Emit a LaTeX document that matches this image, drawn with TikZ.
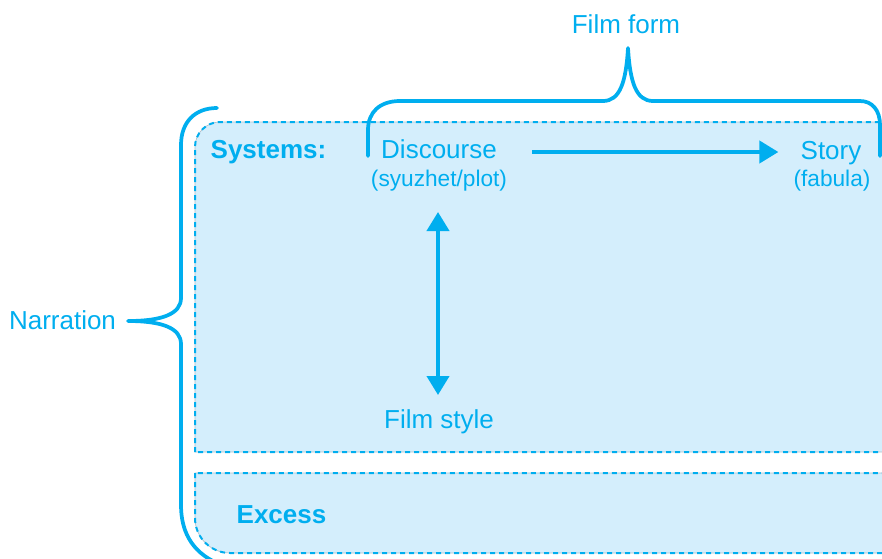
\documentclass[tikz,border=0pt]{standalone}
\usepackage{fontspec}
\setmainfont{Liberation Sans}
\usetikzlibrary{arrows.meta,calc}
\definecolor{cy}{RGB}{0,174,239}
\definecolor{panel}{RGB}{212,238,252}
\definecolor{edge}{RGB}{175,190,200}

\tikzset{
  lbl/.style={inner sep=0pt, anchor=base, text=cy, font=\fontsize{19.5pt}{23pt}\selectfont},
  sublbl/.style={inner sep=0pt, anchor=base, text=cy, font=\fontsize{17pt}{20pt}\selectfont},
  boldlbl/.style={inner sep=0pt, anchor=base, text=cy, font=\fontsize{19.5pt}{23pt}\selectfont\bfseries},
  brace/.style={draw=cy, line width=2.8pt, line cap=round, line join=round},
  arr/.style={draw=cy, line width=3pt, -{Triangle[width=16.5pt,length=14.25pt]}},
  dbl/.style={draw=cy, line width=3pt, {Triangle[width=16.5pt,length=14.25pt]}-{Triangle[width=16.5pt,length=14.25pt]}},
  paneledge/.style={draw=edge, line width=0.5pt},
  paneldash/.style={draw=cy, line width=1.5pt, dash pattern=on 3.75pt off 3pt},
}

\begin{document}
\begin{tikzpicture}[x=0.75pt,y=-0.75pt]
\clip (0,0) rectangle (882,558);

% systems panel
\def\syspanel{(195,452) -- (195,147) .. controls (195,133.2) and (206.2,122) .. (220,122) -- (905,122) -- (905,452) -- cycle}
\fill[panel] \syspanel;
\path[paneledge] \syspanel;
\path[paneldash] \syspanel;

% excess panel
\def\excpanel{(195,473) -- (195,518) .. controls (195,537.3) and (210.7,553) .. (230,553) -- (905,553) -- (905,473) -- cycle}
\fill[panel] \excpanel;
\path[paneledge] \excpanel;
\path[paneldash] \excpanel;

% brace over the film form
\draw[brace] (368,156) -- (368,130) .. controls (368,112) and (380,101) .. (400,101)
  -- (603,101) .. controls (620,101) and (626,82) .. (628,48)
  .. controls (630,82) and (636,101) .. (653,101)
  -- (860,101) .. controls (872,101) and (880,110) .. (880,125) -- (880,156);

% brace beside the narration
\draw[brace] (217,108) .. controls (195,108) and (181,122) .. (181,145)
  -- (181,298) .. controls (181,314) and (162,321) .. (128,321)
  .. controls (162,321) and (181,328) .. (181,344)
  -- (181,505) .. controls (181,535) and (195,555) .. (222,565);

% labels
\node[lbl] (title) at (626,33) {Film form};
\node[lbl] (narr) at (62.5,329) {Narration};
\node[boldlbl] (sys) at (268.5,158) {Systems:};
\node[lbl] (disc) at (439,158) {Discourse};
\node[sublbl] (syu) at (439,186) {(syuzhet/plot)};
\node[lbl] (story) at (831,159) {Story};
\node[sublbl] (fab) at (832,186) {(fabula)};
\node[lbl] (fstyle) at (439,428) {Film style};
\node[boldlbl] (excess) at (281.5,523) {Excess};

% connectors
\draw[arr] ($(disc.base east)+(35,-6)$) -- ($(story.base west)+(-22,-7)$);
\draw[dbl] ($(syu.base)+(-1,26)$) -- ($(fstyle.base)+(-1,-33)$);
\end{tikzpicture}
\end{document}
